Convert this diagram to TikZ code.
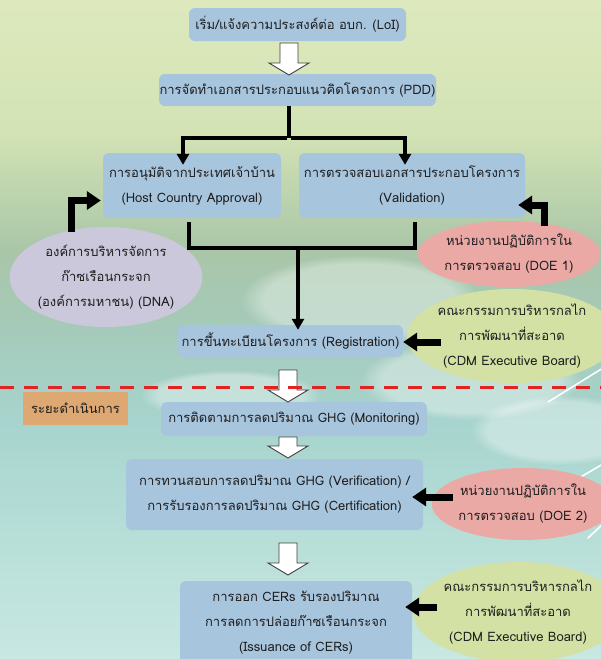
\documentclass[tikz,border=0pt]{standalone}
\usepackage{fontspec}
\setmainfont[Script=Thai]{Loma}
\usetikzlibrary{arrows.meta,calc,shapes.geometric,fadings}
\definecolor{bg0}{HTML}{DDE9BC}
\definecolor{bg1}{HTML}{D3E3B5}
\definecolor{bg2}{HTML}{A9C6A8}
\definecolor{bg3}{HTML}{A5CABA}
\definecolor{bg4}{HTML}{A7D4CE}
\definecolor{bg5}{HTML}{BBE0DA}
\definecolor{bg6}{HTML}{C8E8E2}
\definecolor{boxblue}{HTML}{A8C5DE}
\definecolor{dnacol}{HTML}{CBC8DB}
\definecolor{doecol}{HTML}{EBA9A6}
\definecolor{cdmcol}{HTML}{D3E2A4}
\definecolor{stagecol}{HTML}{DDA872}
\definecolor{reddash}{HTML}{E02424}
\definecolor{txt}{HTML}{1E1E1E}
\pgfdeclareverticalshading{bgshade}{100bp}{color(0bp)=(bg6); color(25bp)=(bg6); color(32.5bp)=(bg5); color(43bp)=(bg4); color(50bp)=(bg3); color(56bp)=(bg2); color(65bp)=(bg1); color(75bp)=(bg0); color(100bp)=(bg0)}
\tikzset{
  every node/.style={font=\fontsize{13}{25}\selectfont, text=txt, align=center, inner sep=0pt},
  box/.style={fill=boxblue, rounded corners=6pt},
  oval/.style={ellipse},
  thinc/.style={line width=3.5pt, black},
  thinarrow/.style={thinc, -{Triangle[width=12pt,length=11pt]}},
  bigarrow/.style={line width=7pt, black, -{Triangle[width=18pt,length=14pt]}},
  hollow/.style={draw=black!75, line width=0.9pt, fill=white, line join=miter},
  streak/.style={white, line width=1.6pt, line cap=round},
  haze/.style={white, opacity=0.35, path fading=circle with fuzzy edge 20 percent}
}
\newcommand\hollowarrow[2]{%
  \draw[hollow] let \p1=(#1), \p2=(#2) in
    ({\x1-9pt},{\y1}) -- ({\x1+9pt},{\y1}) -- ({\x1+9pt},{\y2+12pt}) -- ({\x1+20pt},{\y2+12pt})
    -- ({\x1},{\y2}) -- ({\x1-20pt},{\y2+12pt}) -- ({\x1-9pt},{\y2+12pt}) -- cycle;}
\begin{document}
\begin{tikzpicture}[x=1pt,y=-1pt]
\useasboundingbox (0,0) rectangle (601,659);
\clip (0,0) rectangle (601,659);
\shade[shading=bgshade] (0,0) rectangle (601,659);
% haze / clouds
\fill[haze] (360,300) ellipse (120 and 45);
\fill[haze] (470,380) ellipse (110 and 40);
\fill[haze] (560,430) ellipse (90 and 35);
\fill[haze] (230,395) ellipse (90 and 25);
% streaks
\draw[streak] (548,402) -- (603,368);
\draw[streak] (572,482) -- (603,464);
\draw[streak] (588,538) -- (603,524);

% boxes
\node[box, minimum width=217, minimum height=33] (loi) at (297.5,24.5) {เริ่ม/แจ้งความประสงค์ต่อ อบก. (LoI)};
\node[box, minimum width=277, minimum height=32] (pdd) at (297.5,90) {การจัดทำเอกสารประกอบแนวคิดโครงการ (PDD)};
\node[box, minimum width=178, minimum height=65] (host) at (192,185.5) {การอนุมัติจากประเทศเจ้าบ้าน\\(Host Country Approval)};
\node[box, minimum width=226, minimum height=65] (valid) at (412,185.5) {การตรวจสอบเอกสารประกอบโครงการ\\(Validation)};
\node[box, minimum width=225, minimum height=32] (reg) at (290.5,341) {การขึ้นทะเบียนโครงการ (Registration)};
\node[fill=stagecol, minimum width=105, minimum height=33] (stage) at (75.5,408.5) {ระยะดำเนินการ};
\node[box, minimum width=266, minimum height=34] (mon) at (294,419) {การติดตามการลดปริมาณ GHG (Monitoring)};
\node[box, minimum width=297, minimum height=71] (verif) at (274.5,494.5) {การทวนสอบการลดปริมาณ GHG (Verification) /\\การรับรองการลดปริมาณ GHG (Certification)};
\node[box, minimum width=232, minimum height=84] (iss) at (296,623) {การออก CERs รับรองปริมาณ\\การลดการปล่อยก๊าซเรือนกระจก\\(Issuance of CERs)};

% ellipses
\node[oval, fill=dnacol, minimum width=188, minimum height=100] (dna) at (106,277) {องค์การบริหารจัดการ\\ก๊าซเรือนกระจก\\(องค์การมหาชน) (DNA)};
\node[oval, fill=doecol, minimum width=162, minimum height=66] (doe1) at (509,254) {หน่วยงานปฏิบัติการใน\\การตรวจสอบ (DOE 1)};
\node[oval, fill=cdmcol, minimum width=208, minimum height=94] (cdm1) at (512,336) {คณะกรรมการบริหารกลไก\\การพัฒนาที่สะอาด\\(CDM Executive Board)};
\node[oval, fill=doecol, minimum width=150, minimum height=72] (doe2) at (523,504) {หน่วยงานปฏิบัติการใน\\การตรวจสอบ (DOE 2)};
\node[oval, fill=cdmcol, minimum width=190, minimum height=100] (cdm2) at (518,612) {คณะกรรมการบริหารกลไก\\การพัฒนาที่สะอาด\\(CDM Executive Board)};

% thin connectors
\coordinate (s0) at (289,138);
\draw[thinc] (pdd.south -| s0) -- (s0);
\draw[thinarrow] ($(s0)+(-1.75,0)$) -| ($(host.north)+(-9,12)$);
\draw[thinarrow] ($(s0)+(1.75,0)$) -| ($(valid.north)+(-7,12)$);
\coordinate (j0) at (298,248);
\draw[thinc, line join=miter] ($(host.south)+(-3,4)$) |- (j0) -| ($(valid.south)+(3,4)$);
\draw[thinarrow] (j0) -- ($(j0 |- reg.north)+(0,5)$);

% thick arrows
\draw[bigarrow] ($(dna.north)+(-35,5)$) |- ($(host.west)+(-2,15)$);
\draw[bigarrow] ($(doe1.north)+(35,5)$) |- ($(valid.east)+(-7,19.5)$);
\draw[bigarrow] ($(reg.east)+(38,1)$) -- ($(reg.east)+(0,1)$);
\draw[bigarrow] ($(verif.east)+(30,2.5)$) -- ($(verif.east)+(-11,2.5)$);
\draw[bigarrow] ($(iss.east)+(25,-16)$) -- ($(iss.east)+(-7,-16)$);

% hollow arrows
\coordinate (h1a) at (289,43);  \coordinate (h1b) at (289,75);
\coordinate (h2a) at (288,370); \coordinate (h2b) at (288,402);
\coordinate (h3a) at (288,437); \coordinate (h3b) at (288,458);
\coordinate (h4a) at (288,543); \coordinate (h4b) at (288,575);
\hollowarrow{h1a}{h1b}
\hollowarrow{h2a}{h2b}
\hollowarrow{h3a}{h3b}
\hollowarrow{h4a}{h4b}

% red dashed separator
\coordinate (dl) at (0,387); \coordinate (dr) at (601,387);
\draw[reddash, line width=3pt, dash pattern=on 14pt off 10pt] (dl) -- (dr);
\end{tikzpicture}
\end{document}
